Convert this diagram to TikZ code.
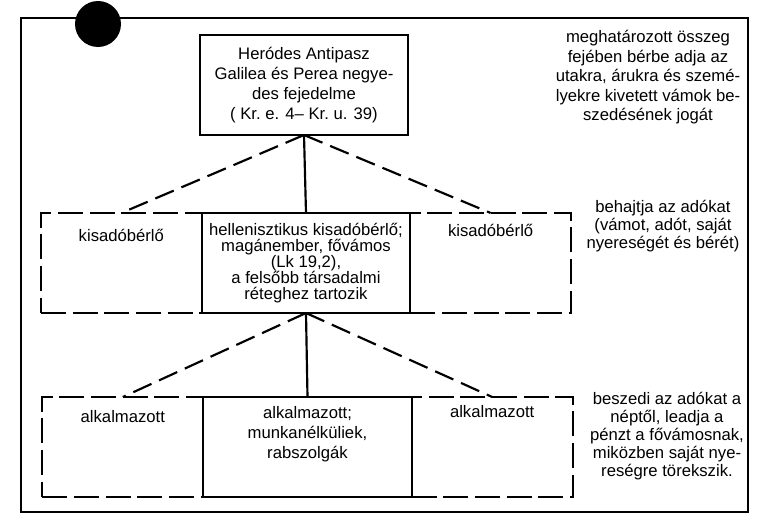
\documentclass[tikz,border=0pt]{standalone}
\usepackage{fontspec}
\setmainfont{Liberation Sans}
\usetikzlibrary{positioning}

\begin{document}
\begin{tikzpicture}[
    x=0.6pt, y=-0.6pt,
    every node/.style={font=\fontsize{10}{12}\selectfont, align=center, inner sep=1pt, outer sep=0pt},
    office/.style={draw, line width=1.3pt, minimum width=125pt, minimum height=60pt},
    deputy/.style={draw, line width=1.3pt, dash pattern=on 15pt off 4pt, minimum width=96.6pt, minimum height=60pt},
    link/.style={line width=1.3pt},
    deplink/.style={line width=1.3pt, dash pattern=on 12pt off 5pt},
    note/.style={anchor=north}
  ]
    \useasboundingbox (0,0) rectangle (757,515);

    % Frame with punch hole
    \draw[line width=1.3pt] (21,18) rectangle (748,512);
    \fill (98,24) circle[radius=13.8pt];

    % Ruler
    \node[office] (herodes) at (304,85) {Heródes Antipasz\\Galilea és Perea negye-\\des fejedelme\\( Kr.~e. 4– Kr.~u. 39)};

    % Tax farmers
    \node[office, font=\fontsize{10}{9.6}\selectfont] (fovamos) at (306,263) {hellenisztikus kisadóbérlő;\\magánember, fővámos\\(Lk 19,2),\\a felsőbb társadalmi\\réteghez tartozik};
    \node[deputy, left=0pt of fovamos] (kisbal) {};
    \node[deputy, right=0pt of fovamos] (kisjobb) {};
    \node[below=9pt of kisbal.north] (kisbaltxt) {kisadóbérlő};
    \node[below=6pt of kisjobb.north] (kisjobbtxt) {kisadóbérlő};

    % Employees
    \node[office] (munkas) at (307.5,447) {};
    \node[below=4.5pt of munkas.north] (munkastxt) {alkalmazott;\\munkanélküliek,\\rabszolgák};
    \node[deputy, left=0pt of munkas] (alkbal) {};
    \node[deputy, right=0pt of munkas] (alkjobb) {};
    \node[below=7pt of alkbal.north] (alkbaltxt) {alkalmazott};
    \node[below=4pt of alkjobb.north] (alkjobbtxt) {alkalmazott};

    % Connections
    \draw[link] (herodes.south) -- (fovamos.north);
    \draw[deplink] (herodes.south) -- (kisbal.north);
    \draw[deplink] (herodes.south) -- (kisjobb.north);
    \draw[link] (fovamos.south) -- (munkas.north);
    \draw[deplink] (fovamos.south) -- (alkbal.north);
    \draw[deplink] (fovamos.south) -- (alkjobb.north);

    % Notes on the right
    \node[note, font=\fontsize{10}{11.7}\selectfont] (jogok) at (648,29) {meghatározott összeg\\fejében bérbe adja az\\utakra, árukra és szemé-\\lyekre kivetett vámok be-\\szedésének jogát};
    \node[note, font=\fontsize{10}{10.8}\selectfont] (behajt) at (663,199) {behajtja az adókat\\(vámot, adót, saját\\nyereségét és bérét)};
    \node[note, font=\fontsize{10}{10.8}\selectfont] (beszed) at (667,391) {beszedi az adókat a\\néptől, leadja a\\pénzt a fővámosnak,\\miközben saját nye-\\reségre törekszik.};

  \end{tikzpicture}
\end{document}
